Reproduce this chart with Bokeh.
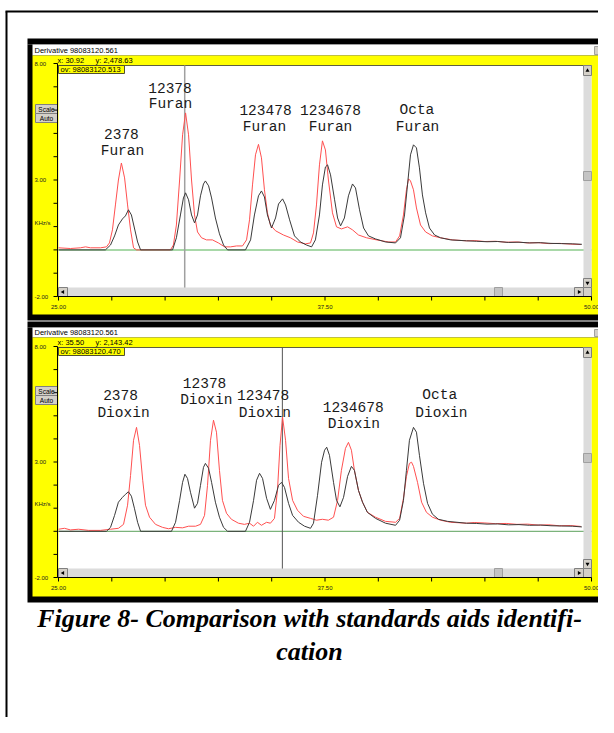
from math import pi
from bokeh.plotting import figure
from bokeh.models import Range1d
from bokeh.embed import file_html
from bokeh.resources import INLINE
from bokeh.core.properties import value

# ---------------- data ----------------
# retention time (min) and signal (KHz/s)
fur_sample_t = [25.00, 27.20, 27.44, 27.63, 27.81, 28.00, 28.14, 28.28, 28.42, 28.56, 28.71, 28.85,
                30.35, 30.53, 30.72, 30.86, 30.96, 31.10, 31.24, 31.38, 31.52, 31.66, 31.80, 31.89, 32.04, 32.18, 32.36, 32.55, 32.74, 32.93,
                33.77, 34.01, 34.19, 34.38, 34.52, 34.66, 34.80, 34.99, 35.18, 35.32, 35.51, 35.65, 35.84, 36.07, 36.35, 36.63, 36.87,
                37.05, 37.24, 37.38, 37.52, 37.62, 37.76, 37.95, 38.09, 38.23, 38.41, 38.60, 38.79, 38.93, 39.12, 39.31, 39.54, 39.87, 40.34, 40.81,
                41.04, 41.23, 41.37, 41.51, 41.65, 41.79, 41.93, 42.07, 42.22, 42.40, 42.64, 42.92, 43.39, 44.14,
                44.6, 45.1, 45.6, 46.1, 46.6, 47.1, 47.6, 48.1, 48.6, 49.1, 49.55]
fur_sample_y = [0, 0, 0.21, 0.60, 1.07, 1.33, 1.46, 1.72, 1.50, 0.94, 0.34, 0,
                0, 0.52, 1.50, 2.23, 2.45, 2.15, 1.50, 1.16, 1.50, 2.32, 2.83, 2.96, 2.75, 2.23, 1.37, 0.69, 0.21, 0,
                0, 0.43, 1.50, 2.32, 2.53, 2.27, 1.50, 0.94, 1.37, 1.97, 2.19, 1.93, 1.29, 0.60, 0.34, 0.21, 0.13,
                0.43, 1.50, 2.79, 3.56, 3.65, 3.22, 2.15, 1.37, 1.03, 1.37, 2.32, 2.83, 2.66, 1.72, 0.94, 0.60, 0.47, 0.34, 0.30,
                0.52, 1.50, 2.79, 4.08, 4.51, 4.38, 3.52, 2.36, 1.59, 0.94, 0.64, 0.52, 0.43, 0.39,
                0.37, 0.35, 0.36, 0.32, 0.33, 0.30, 0.31, 0.28, 0.27, 0.26, 0.24]

fur_std_t = [25.00, 25.56, 26.03, 26.27, 26.50, 26.97, 27.25, 27.39, 27.53, 27.67, 27.81, 27.95, 28.10, 28.24, 28.38, 28.52, 28.66,
             30.25, 30.39, 30.53, 30.68, 30.82, 30.96, 31.10, 31.24, 31.38, 31.52, 31.71, 31.94, 32.22, 32.50, 32.79, 33.07, 33.35, 33.63,
             33.82, 33.96, 34.10, 34.24, 34.38, 34.52, 34.66, 34.80, 34.94, 35.18, 35.55, 35.88, 36.21, 36.59, 36.82,
             36.96, 37.10, 37.24, 37.38, 37.52, 37.66, 37.85, 38.04, 38.27, 38.56, 38.79, 39.07, 39.45, 39.92, 40.48, 40.81,
             41.00, 41.18, 41.32, 41.42, 41.51, 41.65, 41.79, 41.98, 42.22, 42.54, 42.92, 43.48, 44.14,
             44.5, 45.0, 45.5, 46.0, 46.5, 47.0, 47.5, 48.0, 48.5, 49.0, 49.5]
fur_std_y = [0.09, 0.06, 0.09, 0.13, 0.09, 0.09, 0.13, 0.30, 0.86, 1.93, 3.00, 3.73, 3.09, 1.93, 0.86, 0.09, 0,
             0, 0.21, 1.07, 3.00, 4.94, 5.88, 4.94, 3.00, 1.50, 0.77, 0.52, 0.43, 0.43, 0.30, 0.13, 0.13, 0.17, 0.17,
             0.43, 1.29, 2.79, 4.08, 4.53, 3.95, 2.58, 1.59, 1.07, 0.82, 0.64, 0.52, 0.34, 0.26, 0.30,
             0.73, 1.93, 3.65, 4.68, 4.29, 3.00, 1.59, 0.99, 0.90, 0.99, 0.86, 0.64, 0.52, 0.43, 0.34, 0.34,
             0.60, 1.50, 2.58, 3.05, 2.96, 2.58, 1.80, 1.07, 0.77, 0.60, 0.52, 0.43, 0.39,
             0.40, 0.36, 0.37, 0.33, 0.34, 0.30, 0.31, 0.27, 0.28, 0.25, 0.23]

diox_sample_t = [25.00, 27.25, 27.44, 27.63, 27.81, 28.00, 28.14, 28.28, 28.42, 28.56, 28.71, 28.85,
                 30.30, 30.49, 30.68, 30.82, 30.93, 31.05, 31.19, 31.38, 31.52, 31.66, 31.80, 31.89, 32.04, 32.18, 32.36, 32.55, 32.74, 32.93,
                 33.77, 33.96, 34.15, 34.29, 34.43, 34.57, 34.76, 34.94, 35.13, 35.32, 35.46, 35.60, 35.79, 35.98, 36.26, 36.54, 36.82,
                 36.96, 37.15, 37.34, 37.48, 37.58, 37.71, 37.90, 38.04, 38.20, 38.37, 38.56, 38.74, 38.88, 39.07, 39.26, 39.49, 39.87, 40.34, 40.81,
                 41.00, 41.18, 41.32, 41.46, 41.65, 41.79, 41.93, 42.12, 42.31, 42.54, 42.82, 43.25, 44.14,
                 44.6, 45.1, 45.6, 46.1, 46.6, 47.1, 47.6, 48.1, 48.6, 49.1, 49.55]
diox_sample_y = [0, 0, 0.17, 0.69, 1.26, 1.47, 1.60, 1.71, 1.52, 1.00, 0.39, 0,
                 0, 0.39, 1.34, 2.12, 2.47, 2.29, 1.69, 1.00, 1.21, 1.99, 2.77, 2.94, 2.73, 2.12, 1.26, 0.61, 0.17, 0,
                 0, 0.39, 1.34, 2.21, 2.51, 2.29, 1.43, 0.95, 1.34, 1.99, 2.12, 1.90, 1.21, 0.69, 0.39, 0.22, 0.13,
                 0.35, 1.56, 2.99, 3.51, 3.64, 3.29, 2.12, 1.34, 1.06, 1.47, 2.38, 2.81, 2.64, 1.77, 1.26, 0.82, 0.56, 0.35, 0.26,
                 0.48, 1.34, 2.64, 3.94, 4.50, 4.29, 3.29, 2.08, 1.21, 0.74, 0.52, 0.43, 0.35,
                 0.34, 0.31, 0.32, 0.28, 0.29, 0.26, 0.27, 0.24, 0.23, 0.22, 0.19]

diox_std_t = [25.00, 25.28, 25.56, 25.94, 26.41, 26.97, 27.44, 27.81, 28.05, 28.24, 28.38, 28.52, 28.66, 28.80, 28.95, 29.08, 29.27, 29.55, 29.88, 30.16, 30.49, 30.82, 31.10, 31.43, 31.66,
              31.85, 31.99, 32.13, 32.27, 32.41, 32.55, 32.69, 32.88, 33.11, 33.44, 33.72, 33.96, 34.15, 34.33, 34.52, 34.76, 34.94, 35.13,
              35.27, 35.39, 35.51, 35.65, 35.79, 35.98, 36.21, 36.49, 36.82, 37.10, 37.38, 37.66, 37.90,
              38.09, 38.27, 38.46, 38.60, 38.74, 38.88, 39.07, 39.26, 39.49, 39.87, 40.34, 40.81,
              41.00, 41.18, 41.32, 41.46, 41.56, 41.65, 41.84, 42.03, 42.26, 42.54, 42.92, 43.39, 44.14,
              44.5, 45.0, 45.5, 46.0, 46.5, 47.0, 47.5, 48.0, 48.5, 49.0, 49.5]
diox_std_y = [0.09, 0.13, 0.06, 0.09, 0.04, 0.04, 0.09, 0.13, 0.30, 1.13, 2.42, 3.94, 4.50, 3.72, 2.21, 1.13, 0.61, 0.30, 0.17, 0.11, 0.17, 0.15, 0.22, 0.22, 0.30,
              0.69, 1.99, 3.94, 4.81, 4.29, 2.64, 1.34, 0.78, 0.52, 0.35, 0.30, 0.35, 0.22, 0.39, 0.26, 0.39, 0.35, 0.56,
              1.77, 3.72, 4.94, 3.94, 2.29, 1.34, 0.91, 0.65, 0.56, 0.48, 0.52, 0.48, 0.61,
              1.34, 2.64, 3.59, 3.85, 3.51, 2.64, 1.77, 1.26, 0.82, 0.61, 0.43, 0.39,
              0.56, 1.43, 2.38, 2.94, 2.99, 2.81, 2.12, 1.26, 0.82, 0.61, 0.48, 0.39, 0.35,
              0.38, 0.36, 0.33, 0.34, 0.30, 0.31, 0.27, 0.28, 0.24, 0.25, 0.21]

peak_names = ["2378", "12378", "123478", "1234678", "Octa"]
fur_lab1_t = [27.95, 30.23, 34.71, 37.76, 41.81]
fur_lab1_y = [4.98, 6.95, 5.99, 5.99, 5.99]
fur_lab2_t = [28.00, 30.25, 34.66, 37.76, 41.84]
fur_lab2_y = [4.23, 6.27, 5.26, 5.26, 5.26]
diox_lab1_t = [27.91, 31.85, 34.60, 38.82, 42.88]
diox_lab1_y = [5.90, 6.42, 5.89, 5.38, 5.89]
diox_lab2_t = [28.05, 31.93, 34.68, 38.85, 42.96]
diox_lab2_y = [5.12, 5.70, 5.12, 4.66, 5.12]

x_ticks = [25.0, 27.5, 30.0, 32.5, 35.0, 37.5, 40.0, 42.5, 45.0, 47.5, 50.0]
x_tick_labels = ["25.00", "", "", "", "", "37.50", "", "", "", "", "50.00"]
y_ticks = [-2, -1, 0, 1, 2, 3, 4, 5, 6, 7, 8]
y_tick_labels = ["-2.00", "", "", "", "", "3.00", "", "", "", "", "8.00"]

cursor_t = [30.92, 35.50]
readouts = [("x: 30.92", "y: 2,478.63"), ("x: 35.50", "y: 2,143.42")]
file_main = "98083120.561"
file_overlay = ["98083120.513", "98083120.470"]
caption = ["Figure 8- Comparison with standards aids identifi-", "cation"]

# ---------------- layout (picture pixels) ----------------
W, H = 598, 717
PX_L, PX_R, PX_T, PX_B = 0, W, 0, H
P1 = dict(band_top=38, title_top=44, yellow_top=55, plot_top=65, plot_bot=296, yellow_bot=314,
          band_bot=320, ax_top=63, scale_top=104, vthumb=171, khz=222)
P2 = dict(band_top=321, title_top=327, yellow_top=337, plot_top=347, plot_bot=577, yellow_bot=596,
          band_bot=602, ax_top=346, scale_top=386, vthumb=453, khz=503)
AX_X0, AX_X1 = 58, 591

p = figure(width=W, height=H, x_range=Range1d(PX_L, PX_R), y_range=Range1d(PX_B, PX_T),
           output_backend="svg", toolbar_location=None, x_axis_type=None, y_axis_type=None,
           min_border=0, min_border_left=0, min_border_right=0, min_border_top=0, min_border_bottom=0,
           outline_line_color=None, background_fill_color="white", border_fill_color="white")

sx = (AX_X1 - AX_X0) / (x_ticks[-1] - x_ticks[0])
p.extra_x_ranges = {"t": Range1d(x_ticks[0] - (AX_X0 - PX_L) / sx, x_ticks[-1] + (PX_R - AX_X1) / sx)}


def y_range_for(g):
    sy = (g["plot_bot"] - g["ax_top"]) / (y_ticks[-1] - y_ticks[0])
    return Range1d(y_ticks[0] - (PX_B - g["plot_bot"]) / sy, y_ticks[-1] + (g["ax_top"] - PX_T) / sy)


p.extra_y_ranges = {"s1": y_range_for(P1), "s2": y_range_for(P2)}


def rect(l, r, t, b, fill, line=None):
    p.quad(left=[l], right=[r], top=[t], bottom=[b], fill_color=fill, line_color=line, line_width=1)


def label(x, y, s, size=7, align="left", color="#000000", font="Liberation Sans", style="normal"):
    p.text(x=[x], y=[y], text=[s], text_font=value(font), text_font_size=f"{size}px",
           text_align=align, text_baseline="middle", text_color=color, text_font_style=style)


# outer page frame
p.line([5, PX_R], [11, 11], line_color="black", line_width=2)
p.line([6, 6], [11, PX_B], line_color="black", line_width=2)


def draw_panel(g, yname, s_t, s_y, r_t, r_y, l1t, l1y, l2t, l2y, second, cur, readout, ov,
               base_col, base_w, cur_col, cur_w):
    bt, tt, yt, pt, pb, yb, bb = (g["band_top"], g["title_top"], g["yellow_top"], g["plot_top"],
                                  g["plot_bot"], g["yellow_bot"], g["band_bot"])
    rect(27, 605, bt, tt, "black")
    rect(27, 600, tt, bb, "black")
    rect(32, 600, tt, yt, "white")
    rect(594, 600, tt + 2, yt - 1, "#d4d0c8", "#a0a0a0")
    label(34, (tt + yt) / 2, "Derivative   " + file_main, size=7.5)
    rect(32, 600, yt, yb, "#ffff00")
    rect(AX_X0, AX_X1, pt, pb, "white")
    p.line([57, AX_X1], [pt, pt], line_color="#606040", line_width=1)
    label(57, (yt + pt) / 2, readout[0], size=7.5)
    label(95, (yt + pt) / 2, readout[1], size=7.5)
    st = g["scale_top"]
    rect(35, 57, st, st + 9, "#d4d0c8", "#808080")
    label(46, st + 4.5, "Scale", size=6.5, align="center")
    rect(35, 57, st + 9, st + 18, "#d4d0c8", "#808080")
    label(46, st + 13.5, "Auto", size=6.5, align="center")

    # zero line, cursor, traces
    p.line([x_ticks[0], x_ticks[-1]], [0, 0], x_range_name="t", y_range_name=yname,
           line_color=base_col, line_width=base_w)
    p.line([cur, cur], [pt, pb], x_range_name="t", line_color=cur_col, line_width=cur_w)
    p.line(r_t, r_y, x_range_name="t", y_range_name=yname, line_color="#ff5050", line_width=1)
    p.line(s_t, s_y, x_range_name="t", y_range_name=yname, line_color="#3a3a3a", line_width=1)

    # overlay file box
    rect(AX_X0, 124, pt, pt + 8, "#ffff00", "#505030")
    label(60, pt + 4, "ov: " + ov, size=7.5)

    # scrollbars
    hb = pb - 9
    rect(AX_X0, 583, hb, pb, "#dcdcdc")
    rect(AX_X0, 67, hb, pb, "#d4d0c8", "#808080")
    rect(574, 583, hb, pb, "#d4d0c8", "#808080")
    rect(494, 502, hb, pb, "#c4c4c4", "#a0a0a0")
    rect(583, AX_X1, pt, hb, "#dcdcdc")
    rect(583, AX_X1, pt, pt + 10, "#d4d0c8", "#808080")
    rect(583, AX_X1, hb - 9, hb, "#d4d0c8", "#808080")
    rect(583, AX_X1, g["vthumb"], g["vthumb"] + 9, "#c4c4c4", "#a0a0a0")
    rect(583, AX_X1, hb, pb, "#d4d0c8", "#808080")
    p.scatter(x=[62.5, 578.5, 587, 587], y=[hb + 4.5, hb + 4.5, pt + 5, hb - 4.5], marker="triangle",
              size=4, angle=[pi / 2, -pi / 2, 0, pi], fill_color="black", line_color=None)

    # axes
    p.line([57, 57], [g["ax_top"], pb], line_color="black", line_width=1)
    p.line([57, AX_X1], [pb, pb], line_color="black", line_width=1)
    n, m = len(x_ticks), len(y_ticks)
    p.segment(x0=x_ticks, x1=x_ticks, y0=[pb] * n, y1=[pb + 4] * n, x_range_name="t",
              line_color="black", line_width=1)
    p.segment(x0=[53] * m, x1=[57] * m, y0=y_ticks, y1=y_ticks, y_range_name=yname,
              line_color="black", line_width=1)
    p.text(x=x_ticks, y=[pb + 10] * n, text=x_tick_labels, x_range_name="t",
           text_font=value("Liberation Sans"), text_font_size="6px", text_align="center",
           text_baseline="middle", text_color="#202020")
    p.text(x=[34] * m, y=y_ticks, text=y_tick_labels, y_range_name=yname,
           text_font=value("Liberation Sans"), text_font_size="6px", text_align="left",
           text_baseline="middle", text_color="#202020")
    label(34, g["khz"], "KHz/s", size=6, color="#202020")

    # peak labels
    for xs, ys, txt in ((l1t, l1y, peak_names), (l2t, l2y, [second] * len(peak_names))):
        p.text(x=xs, y=ys, text=txt, x_range_name="t", y_range_name=yname,
               text_font=value("Liberation Mono"), text_font_size="14.5px", text_align="center",
               text_baseline="middle", text_color="#1a1a1a")


draw_panel(P1, "s1", fur_sample_t, fur_sample_y, fur_std_t, fur_std_y,
           fur_lab1_t, fur_lab1_y, fur_lab2_t, fur_lab2_y, "Furan", cursor_t[0], readouts[0],
           file_overlay[0], "#a8d8a8", 2, "#a0a0a0", 1.5)
draw_panel(P2, "s2", diox_sample_t, diox_sample_y, diox_std_t, diox_std_y,
           diox_lab1_t, diox_lab1_y, diox_lab2_t, diox_lab2_y, "Dioxin", cursor_t[1], readouts[1],
           file_overlay[1], "#5aa05a", 1, "#555555", 1)

p.text(x=[309, 309], y=[618, 651], text=caption, text_font=value("Liberation Serif"),
       text_font_size="26px", text_font_style="bold italic", text_align="center",
       text_baseline="middle", text_color="black")

open("out.html", "w").write(file_html(p, INLINE))
